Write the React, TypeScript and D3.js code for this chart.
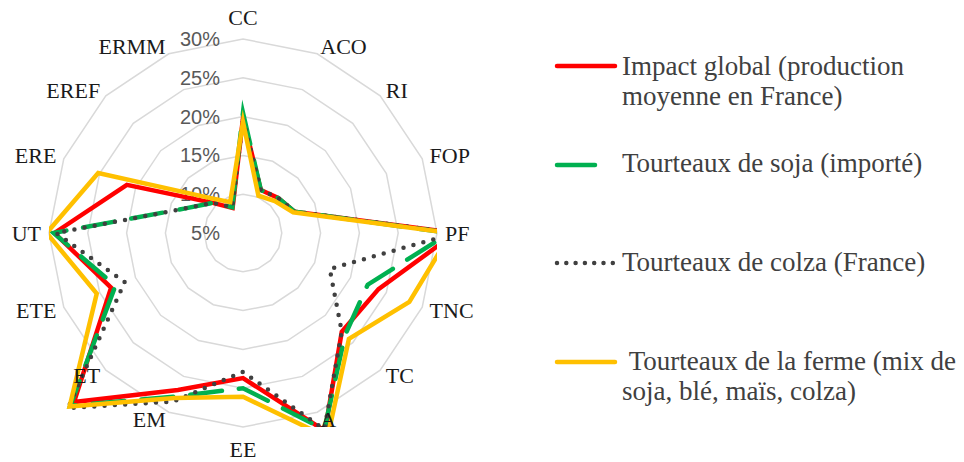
import React from "react";
import * as d3 from "d3";

const categories = ["CC", "ACO", "RI", "FOP", "PF", "TNC", "TC", "A", "EE", "EM", "ET", "ETE", "UT", "ERE", "EREF", "ERMM"];

const impactGlobal = [19.8, 11.0, 11.4, 12.2, 32.4, 23.9, 23.0, 32.6, 23.7, 26.9, 35.8, 23.4, 29.3, 21.2, 10.5, 8.5];
const sojaImporte = [20.5, 11.0, 11.4, 12.2, 31.6, 22.4, 23.6, 32.4, 25.0, 27.8, 36.5, 22.8, 29.4, 13.2, 10.5, 8.6];
const colzaFrance = [19.6, 11.0, 11.4, 12.2, 32.4, 17.1, 23.0, 32.4, 22.9, 28.5, 36.9, 21.5, 29.1, 13.2, 10.5, 8.6];
const fermeMix = [19.3, 10.2, 10.8, 12.0, 31.8, 28.2, 24.3, 33.5, 26.1, 28.0, 36.6, 25.4, 30.3, 25.2, 11.5, 9.3];

const tickValues = [5, 10, 15, 20, 25, 30];
const tickLabels = ["5%", "10%", "15%", "20%", "25%", "30%"];

const legendRed = ["Impact global (production", "moyenne en France)"];
const legendGreen = ["Tourteaux de soja (importé)"];
const legendDotted = ["Tourteaux de colza (France)"];
const legendYellow = ["\u00a0Tourteaux de la ferme (mix de", "soja, blé, maïs, colza)"];

const series = [
  { name: legendRed, values: impactGlobal, color: "#FF0000", dash: undefined as string | undefined },
  { name: legendGreen, values: sojaImporte, color: "#00B050", dash: "32 17" },
  { name: legendDotted, values: colzaFrance, color: "#404040", dash: "0 10.3" },
  { name: legendYellow, values: fermeMix, color: "#FFC000", dash: undefined as string | undefined },
];

export default function App() {
  const CX = 243;
  const CY = 233;
  const R = 194;
  const n = categories.length;
  const angle = (i: number) => (i * 2 * Math.PI) / n;

  const rScale = d3
    .scaleLinear()
    .domain([tickValues[0], tickValues[tickValues.length - 1]])
    .range([0, R]);

  const radial = d3
    .lineRadial<number>()
    .angle((_, i) => angle(i))
    .radius((d) => rScale(d))
    .curve(d3.curveLinearClosed);

  const ringPath = (v: number) => radial(categories.map(() => v)) || "";

  const labelDist = R + 8;
  const serif = "'Liberation Serif', 'Times New Roman', serif";
  const sans = "'Liberation Sans', Arial, sans-serif";

  const legX1 = 557;
  const legTextX = 622;
  const legRows = [
    { lineY: 66, baseY: 75, x2: 615 },
    { lineY: 165, baseY: 172, x2: 595 },
    { lineY: 263, baseY: 271, x2: 613 },
    { lineY: 362, baseY: 370, x2: 615 },
  ];

  return (
    <div style={{ position: "fixed", left: 0, top: 0 }}>
      <svg width={964} height={462} style={{ display: "block", background: "#ffffff" }}>
        <defs>
          <clipPath id="plotClip">
            <rect x={CX - R} y={CY - R} width={2 * R} height={2 * R} />
          </clipPath>
        </defs>

        {/* grid rings */}
        <g transform={`translate(${CX},${CY})`}>
          {tickValues.slice(1).map((v) => (
            <path key={v} d={ringPath(v)} fill="none" stroke="#d9d9d9" strokeWidth={1.5} />
          ))}
        </g>

        {/* tick labels */}
        {tickValues.map((v, i) => (
          <text
            key={v}
            x={CX - 23}
            y={CY - rScale(v)}
            textAnchor="end"
            dominantBaseline="central"
            fontFamily={sans}
            fontSize={20}
            fill="#595959"
          >
            {tickLabels[i]}
          </text>
        ))}

        {/* series */}
        <g clipPath="url(#plotClip)">
          <g transform={`translate(${CX},${CY})`}>
            {series.map((s, k) => (
              <path
                key={k}
                d={radial(s.values) || ""}
                fill="none"
                stroke={s.color}
                strokeWidth={4.5}
                strokeDasharray={s.dash}
                strokeLinecap={s.dash ? "round" : "butt"}
                strokeLinejoin="miter"
                strokeMiterlimit={10}
              />
            ))}
          </g>
        </g>

        {/* category labels */}
        {categories.map((c, i) => {
          const a = angle(i);
          const s = Math.sin(a);
          const co = Math.cos(a);
          const x = CX + labelDist * s;
          let y = CY - labelDist * co;
          let anchor: "start" | "end" | "middle" = "middle";
          if (Math.abs(s) < 0.01) {
            y -= co * 14;
          } else {
            anchor = s > 0 ? "start" : "end";
          }
          return (
            <text
              key={c}
              x={x}
              y={y}
              textAnchor={anchor}
              dominantBaseline="central"
              fontFamily={serif}
              fontSize={22}
              fill="#1a1a1a"
            >
              {c}
            </text>
          );
        })}

        {/* legend */}
        {series.map((s, k) => {
          const row = legRows[k];
          return (
            <g key={k}>
              <line
                x1={legX1}
                x2={row.x2}
                y1={row.lineY}
                y2={row.lineY}
                stroke={s.color}
                strokeWidth={4.5}
                strokeLinecap="round"
                strokeDasharray={k === 2 ? "0 9.3" : undefined}
              />
              <text fontFamily={serif} fontSize={27} fill="#404040">
                {s.name.map((line, j) => (
                  <tspan key={j} x={legTextX} y={row.baseY + j * 30}>
                    {line}
                  </tspan>
                ))}
              </text>
            </g>
          );
        })}
      </svg>
    </div>
  );
}
